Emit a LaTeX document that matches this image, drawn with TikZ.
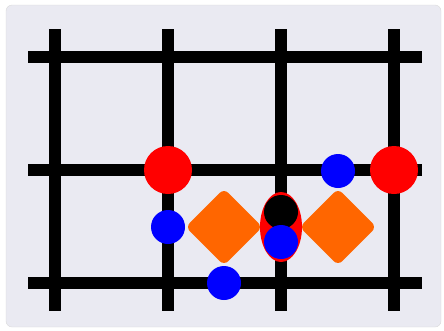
\documentclass[tikz,border=0pt]{standalone}
\usepackage{tikz}
\usetikzlibrary{shapes.geometric}
\usepackage{xcolor}
\definecolor{boardbg}{RGB}{234,234,242}
\definecolor{gemorange}{RGB}{255,102,0}

\begin{document}
\begin{tikzpicture}[x=1pt, y=-1pt,
    gridline/.style={line width=12pt},
    bigred/.style={circle, fill=red, minimum size=48pt, inner sep=0pt},
    bluedot/.style={circle, fill=blue, minimum size=34pt, inner sep=0pt},
    blackdot/.style={circle, fill=black, minimum size=34pt, inner sep=0pt},
    gem/.style={diamond, fill=gemorange, minimum width=77pt, minimum height=77pt,
                inner sep=0pt, rounded corners=6pt},
    pod/.style={ellipse, fill=red, minimum width=42pt, minimum height=70pt, inner sep=0pt}
  ]
    \useasboundingbox (0,0) rectangle (444,330);
    \draw[fill=boardbg, draw=black!15, rounded corners=6pt] (6,5) rectangle (441,327);

    % grid
    \foreach \x in {55,168,281,394}
      \draw[gridline] (\x,29) -- (\x,311);
    \foreach \y in {57,170,283}
      \draw[gridline] (28,\y) -- (422,\y);

    \node[bigred] (r1) at (168,170) {};
    \node[bigred] (r2) at (394,170) {};
    \node[bluedot] (b1) at (168,227) {};
    \node[bluedot] (b2) at (224,283) {};
    \node[bluedot] (b3) at (338,171) {};
    \node[gem] (g1) at (224,227) {};
    \node[gem] (g2) at (338,227) {};
    \node[pod] (e1) at (281,227) {};
    \node[blackdot] (k1) at (281,212) {};
    \node[bluedot] (b4) at (281,242) {};
  \end{tikzpicture}
\end{document}
